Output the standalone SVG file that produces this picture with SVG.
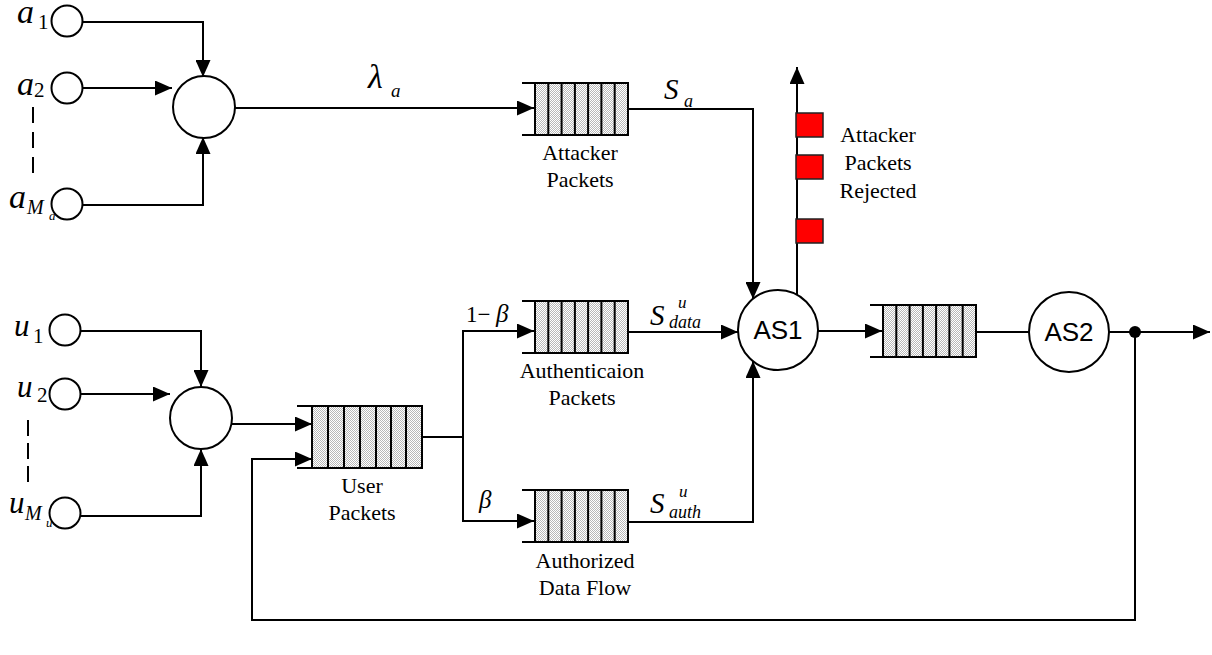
<svg xmlns="http://www.w3.org/2000/svg" width="1212" height="655" viewBox="0 0 1212 655">
<style>
.ln{fill:none;stroke:#000;stroke-width:2}
.ar{fill:none;stroke:#000;stroke-width:2;marker-end:url(#arr)}
.nd{fill:#fff;stroke:#000;stroke-width:2}
.tx{font-family:"Liberation Serif","Times New Roman",serif;font-size:22px;fill:#000;text-anchor:middle}
.mi{font-family:"Liberation Serif","Times New Roman",serif;font-style:italic;fill:#000}
.rm{font-family:"Liberation Serif","Times New Roman",serif;font-style:normal;fill:#000}
.sn{font-family:"Liberation Sans",Arial,sans-serif;font-size:26px;fill:#000;text-anchor:middle}
.rj{fill:#f00;stroke:#222;stroke-width:1.5}
</style>
<defs>
<pattern id="chk" width="2" height="2" patternUnits="userSpaceOnUse">
<rect width="2" height="2" fill="#fff"/>
<rect width="1" height="1" fill="#b8b8b8"/>
<rect x="1" y="1" width="1" height="1" fill="#b8b8b8"/>
</pattern>
<marker id="arr" markerWidth="17" markerHeight="15" refX="17" refY="7.5" orient="auto" markerUnits="userSpaceOnUse">
<path d="M0,0 L17,7.5 L0,15 Z" fill="#000"/>
</marker>
<g id="q">
<rect x="13" y="0" width="93" height="52" fill="url(#chk)" stroke="#000" stroke-width="2"/>
<path d="M0,0 H13 M0,52 H13 M26.3,0 V52 M39.6,0 V52 M52.9,0 V52 M66.1,0 V52 M79.4,0 V52 M92.7,0 V52" fill="none" stroke="#000" stroke-width="2"/>
</g>
</defs>

<g id="connectors">
<path class="ar" d="M83,22 H203 V77"/>
<path class="ar" d="M83,88 H172"/>
<path class="ar" d="M83,205 H203 V137"/>
<path d="M33,107 V173" class="ln" stroke-dasharray="16 9"/>
<path class="ar" d="M235,108 H534"/>
<path class="ar" d="M628,109 H753 V299"/>
<path class="ar" d="M81,331 H201 V387"/>
<path class="ar" d="M81,394 H170"/>
<path class="ar" d="M81,516 H201 V449"/>
<path d="M28,420 V483" class="ln" stroke-dasharray="16 7"/>
<path class="ar" d="M232,424 H312"/>
<path class="ar" d="M1135,332 V620 H252 V459 H312"/>
<path class="ln" d="M422,437 H463"/>
<path class="ar" d="M463,437 V331 H534"/>
<path class="ar" d="M463,437 V521 H534"/>
<path class="ar" d="M628,332 H738"/>
<path class="ar" d="M628,522 H753 V361"/>
<path class="ar" d="M818,331 H882"/>
<path class="ar" d="M797,295 V67"/>
<path class="ln" d="M977,332 H1029"/>
<path class="ar" d="M1109,332 H1210"/>
<circle cx="1135" cy="332" r="6" fill="#000"/>
</g>

<g id="a1"><circle class="nd" cx="67" cy="21" r="15.5"/>
<text class="mi" x="17" y="23" font-size="34">a</text><text class="rm" x="38" y="29" font-size="21">1</text></g>
<g id="a2"><circle class="nd" cx="67" cy="88" r="15.5"/>
<text class="mi" x="17" y="95" font-size="34">a</text><text class="rm" x="34" y="97" font-size="21">2</text></g>
<g id="aMa"><circle class="nd" cx="67" cy="204" r="15.5"/>
<text class="mi" x="9" y="208" font-size="34">a</text><text class="mi" x="27" y="214" font-size="20">M</text><text class="mi" x="49" y="220" font-size="13">a</text></g>
<g id="mux-a"><circle class="nd" cx="204" cy="107" r="31"/></g>

<g id="u1"><circle class="nd" cx="65" cy="330" r="15.5"/>
<text class="mi" x="14" y="336" font-size="31">u</text><text class="rm" x="33" y="343" font-size="21">1</text></g>
<g id="u2"><circle class="nd" cx="65" cy="394" r="15.5"/>
<text class="mi" x="17" y="397" font-size="31">u</text><text class="rm" x="37" y="402" font-size="21">2</text></g>
<g id="uMu"><circle class="nd" cx="65" cy="513" r="15.5"/>
<text class="mi" x="9" y="513" font-size="31">u</text><text class="mi" x="25" y="520" font-size="20">M</text><text class="mi" x="46" y="527" font-size="13">u</text></g>
<g id="mux-u"><circle class="nd" cx="201" cy="418" r="31"/></g>

<g id="lambda"><text class="mi" x="368" y="88" font-size="34">λ</text><text class="mi" x="391" y="97" font-size="19">a</text></g>

<g id="attacker-queue"><use href="#q" x="522" y="83"/>
<text class="tx" x="580" y="160">Attacker</text><text class="tx" x="580" y="187">Packets</text>
<text class="mi" x="664" y="99" font-size="29">S</text><text class="mi" x="684" y="107" font-size="18">a</text></g>

<g id="user-queue">
<rect x="312" y="406" width="110" height="62" fill="url(#chk)" stroke="#000" stroke-width="2"/>
<path d="M297,406 H312 M297,468 H312 M328,406 V468 M344,406 V468 M360,406 V468 M376,406 V468 M391,406 V468 M406,406 V468" fill="none" stroke="#000" stroke-width="2"/>
<text class="tx" x="362" y="493">User</text><text class="tx" x="362" y="520">Packets</text></g>

<g id="auth-queue"><use href="#q" x="522" y="301"/>
<text class="tx" x="582" y="378">Authenticaion</text><text class="tx" x="582" y="405">Packets</text>
<text class="rm" x="466" y="322" font-size="23">1−</text><text class="mi" x="496" y="322" font-size="25">β</text>
<text class="mi" x="650" y="325" font-size="29">S</text><text class="mi" x="678" y="308" font-size="17">u</text><text class="mi" x="669" y="328" font-size="18">data</text></g>

<g id="data-queue"><use href="#q" x="522" y="490"/>
<text class="tx" x="585" y="568">Authorized</text><text class="tx" x="585" y="595">Data Flow</text>
<text class="mi" x="479" y="508" font-size="25">β</text>
<text class="mi" x="650" y="513" font-size="29">S</text><text class="mi" x="679" y="497" font-size="17">u</text><text class="mi" x="669" y="518" font-size="18">auth</text></g>

<g id="AS1"><circle class="nd" cx="778" cy="330" r="40"/><text class="sn" x="778" y="339">AS1</text></g>

<g id="rejected">
<rect class="rj" x="796" y="113" width="27" height="24"/>
<rect class="rj" x="796" y="155" width="27" height="24"/>
<rect class="rj" x="796" y="219" width="27" height="24"/>
<text class="tx" x="878" y="142">Attacker</text><text class="tx" x="878" y="170">Packets</text><text class="tx" x="878" y="198">Rejected</text></g>

<g id="queue3"><use href="#q" x="870" y="305"/></g>
<g id="AS2"><circle class="nd" cx="1069" cy="332" r="40"/><text class="sn" x="1069" y="341">AS2</text></g>
</svg>
